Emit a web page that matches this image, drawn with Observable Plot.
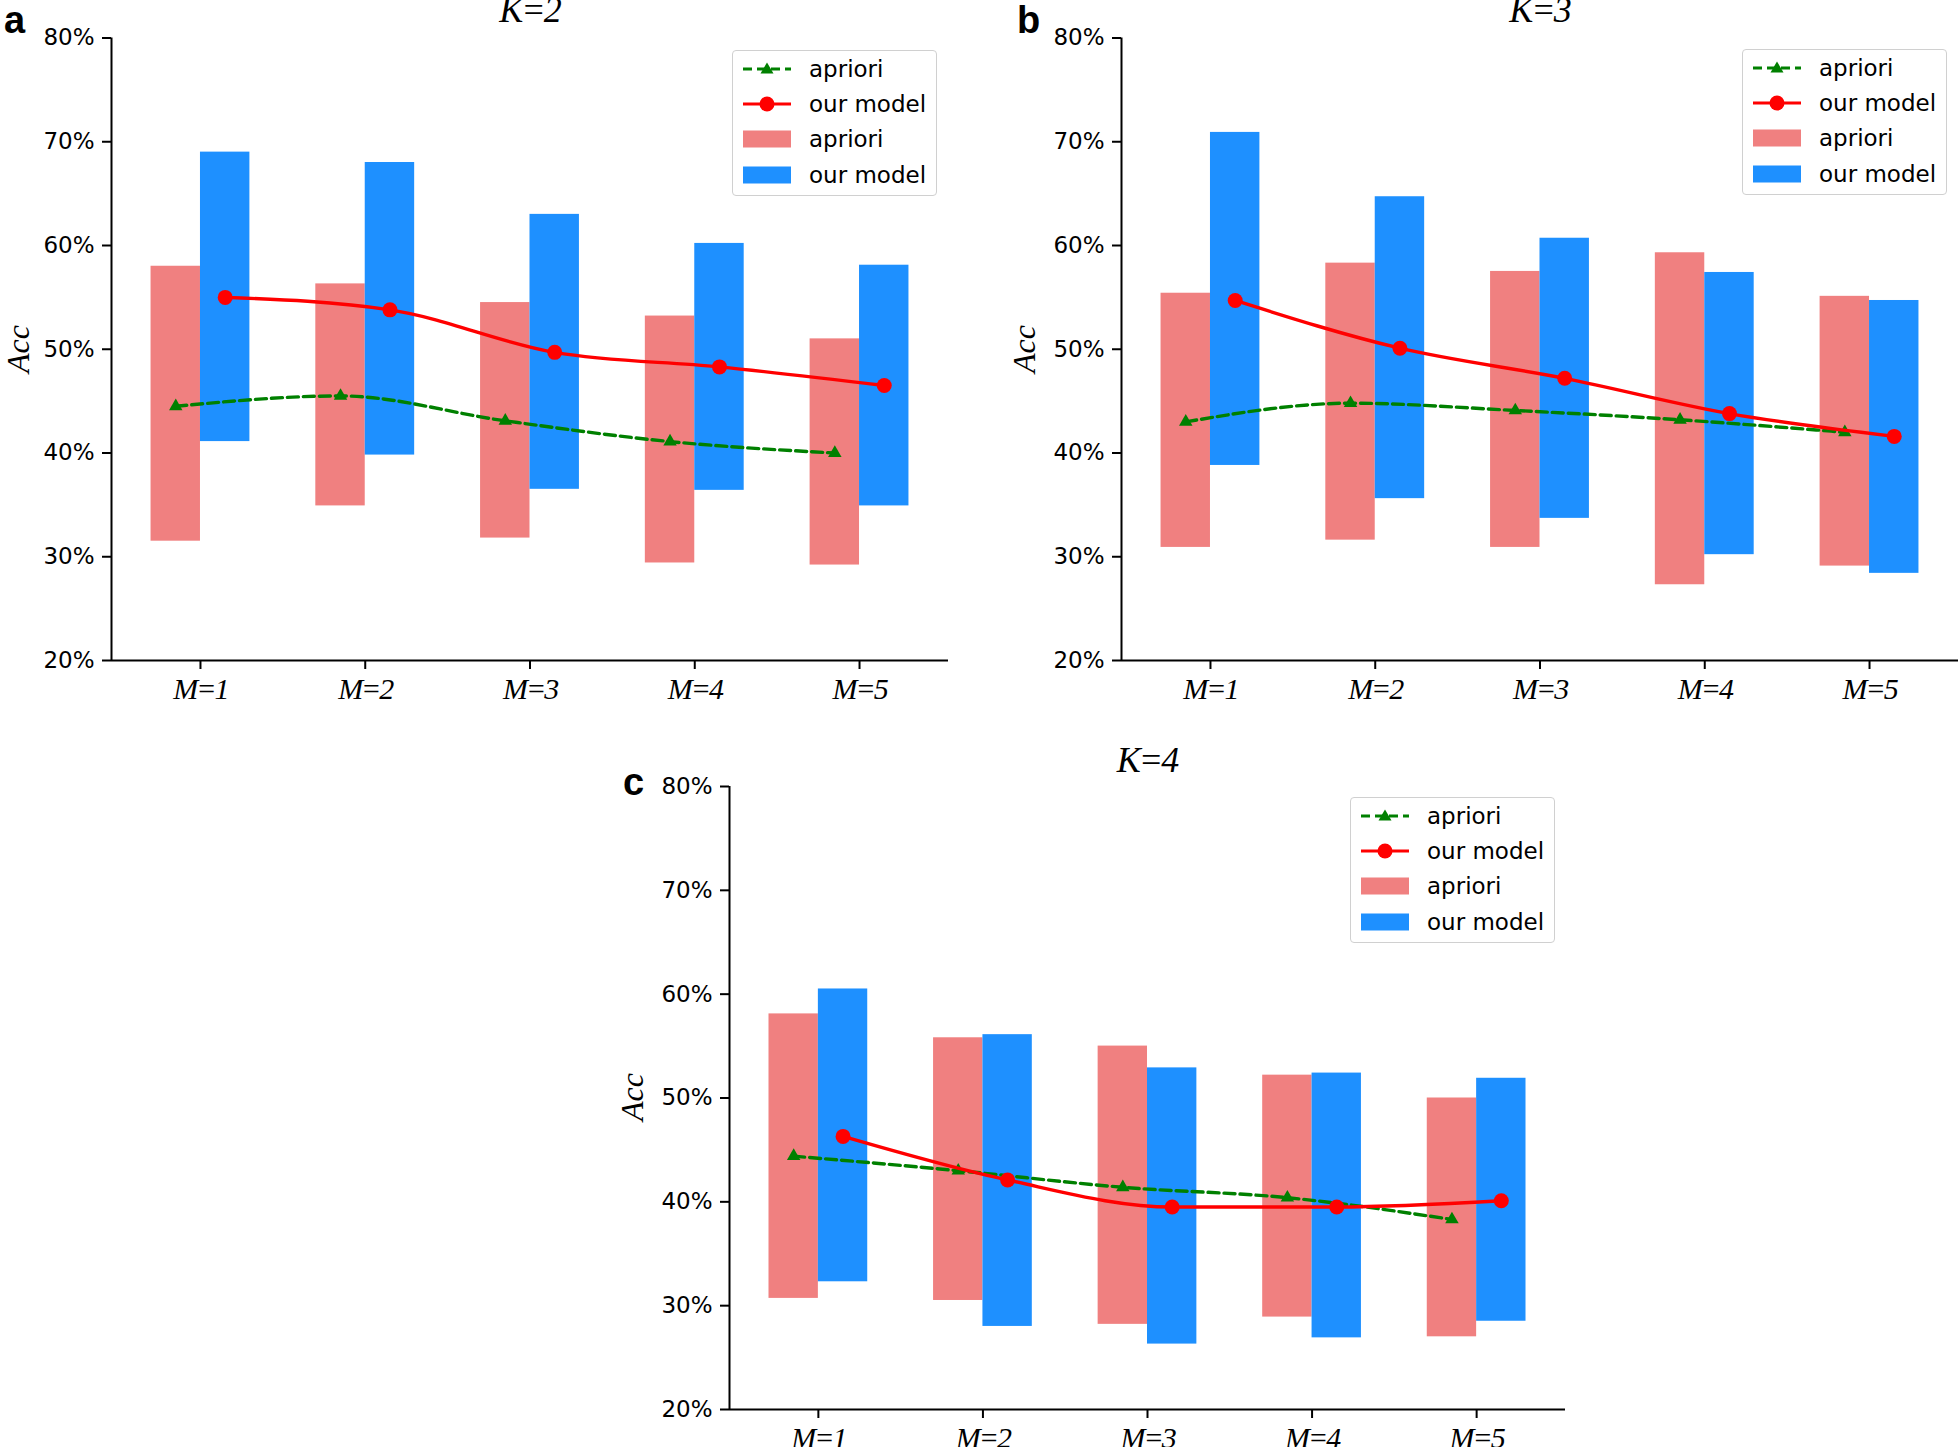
<!DOCTYPE html>
<html>
<head>
<meta charset="utf-8">
<script src="https://cdn.jsdelivr.net/npm/d3@7"></script>
<script src="https://cdn.jsdelivr.net/npm/@observablehq/plot@0.6"></script>
<style>
  body { margin: 0; background: #fff; }
  #page { position: relative; width: 1960px; height: 1447px; overflow: hidden; background: #fff; }
  .panel { position: absolute; }
  .title { position: absolute; font-family: "Liberation Serif", serif; font-style: italic; font-size: 36px; letter-spacing: -2px; line-height: 1; transform: translateX(-50%); white-space: nowrap; color: #000; }
  .letter { position: absolute; font-family: "Liberation Sans", Arial, sans-serif; font-weight: bold; font-size: 38px; line-height: 1; color: #000; }
  .ylab { position: absolute; font-family: "Liberation Serif", serif; font-style: italic; font-size: 32px; line-height: 1; transform: translate(-50%, -50%) rotate(-90deg); white-space: nowrap; color: #000; }
  .legend { position: absolute; box-sizing: border-box; width: 205px; height: 146px; padding: 0 0 0 10px; background: rgba(255,255,255,0.8); border: 1px solid #d0d0d0; border-radius: 4px; }
  .legend .row { display: flex; align-items: center; height: 35.3px; }
  .legend svg { width: 48px; height: 20px; margin-right: 18px; flex: none; }
  .legend span { font-family: "DejaVu Sans", sans-serif; font-size: 23px; color: #000; white-space: nowrap; }
  g[aria-label="x-axis tick label"] text { letter-spacing: -2px; }
</style>
</head>
<body>
<div id="page"></div>
<script>
// ---------- data ----------
const categories = ["M=1", "M=2", "M=3", "M=4", "M=5"];
const yTicks = [20, 30, 40, 50, 60, 70, 80];
const panelTitles = ["K=2", "K=3", "K=4"];
const panelLetters = ["a", "b", "c"];
const seriesNames = ["apriori", "our model"];

// K=2
const k2AprioriLow  = [31.5, 34.9, 31.8, 29.4, 29.2];
const k2AprioriHigh = [58.0, 56.3, 54.5, 53.2, 51.0];
const k2ModelLow    = [41.1, 39.8, 36.5, 36.4, 34.9];
const k2ModelHigh   = [69.0, 68.0, 63.0, 60.2, 58.1];
const k2AprioriAcc  = [44.5, 45.5, 43.1, 41.1, 40.0];
const k2ModelAcc    = [55.0, 53.8, 49.7, 48.3, 46.5];
// K=3
const k3AprioriLow  = [30.9, 31.6, 30.9, 27.3, 29.1];
const k3AprioriHigh = [55.4, 58.3, 57.5, 59.3, 55.1];
const k3ModelLow    = [38.8, 35.6, 33.7, 30.2, 28.4];
const k3ModelHigh   = [70.9, 64.7, 60.7, 57.4, 54.7];
const k3AprioriAcc  = [43.0, 44.8, 44.1, 43.2, 42.0];
const k3ModelAcc    = [54.7, 50.1, 47.2, 43.8, 41.6];
// K=4
const k4AprioriLow  = [30.7, 30.5, 28.2, 28.9, 27.0];
const k4AprioriHigh = [58.1, 55.8, 55.0, 52.2, 50.0];
const k4ModelLow    = [32.3, 28.0, 26.3, 26.9, 28.5];
const k4ModelHigh   = [60.5, 56.1, 52.9, 52.4, 51.9];
const k4AprioriAcc  = [44.4, 43.0, 41.4, 40.4, 38.3];
const k4ModelAcc    = [46.3, 42.1, 39.5, 39.5, 40.1];

// ---------- styles / layout ----------
const colAprioriBar = "#F08080";
const colModelBar = "#1E90FF";
const colAprioriLine = "#008000";
const colModelLine = "#FF0000";

const panels = [
  { data: [k2AprioriLow, k2AprioriHigh, k2ModelLow, k2ModelHigh, k2AprioriAcc, k2ModelAcc],
    left: 0, top: 0, w: 980, h: 720, ml: 111, mr: 32, mt: 37.5, mb: 60,
    title: [529.5, -8], letter: [4, 0.5], ylab: [18, 349], legend: [732, 50] },
  { data: [k3AprioriLow, k3AprioriHigh, k3ModelLow, k3ModelHigh, k3AprioriAcc, k3ModelAcc],
    left: 1010, top: 0, w: 950, h: 720, ml: 111, mr: 2, mt: 37.5, mb: 60,
    title: [1539.5, -8], letter: [1017, 0.5], ylab: [1024, 349], legend: [1742, 49] },
  { data: [k4AprioriLow, k4AprioriHigh, k4ModelLow, k4ModelHigh, k4AprioriAcc, k4ModelAcc],
    left: 618, top: 749, w: 967, h: 698, ml: 111, mr: 20, mt: 37, mb: 38,
    title: [1147, 742], letter: [623, 763], ylab: [632, 1097], legend: [1350, 797] }
];

const page = document.getElementById("page");
const xDomain = [-0.54, 4.54];

function legendHTML() {
  return `
  <div class="row"><svg viewBox="0 0 48 20"><line x1="0" y1="10" x2="48" y2="10" stroke="${colAprioriLine}" stroke-width="3.2" stroke-dasharray="9,5"/><path d="M24,3.5 L30.5,14.5 L17.5,14.5 Z" fill="${colAprioriLine}"/></svg><span>${seriesNames[0]}</span></div>
  <div class="row"><svg viewBox="0 0 48 20"><line x1="0" y1="10" x2="48" y2="10" stroke="${colModelLine}" stroke-width="3.2"/><circle cx="24" cy="10" r="7.5" fill="${colModelLine}"/></svg><span>${seriesNames[1]}</span></div>
  <div class="row"><svg viewBox="0 0 48 20"><rect x="0" y="1.5" width="48" height="17" fill="${colAprioriBar}"/></svg><span>${seriesNames[0]}</span></div>
  <div class="row"><svg viewBox="0 0 48 20"><rect x="0" y="1.5" width="48" height="17" fill="${colModelBar}"/></svg><span>${seriesNames[1]}</span></div>`;
}

panels.forEach((p, k) => {
  const [aLo, aHi, mLo, mHi, aAcc, mAcc] = p.data;
  const rows = categories.map((c, i) => ({ i, c, aLo: aLo[i], aHi: aHi[i], mLo: mLo[i], mHi: mHi[i], aAcc: aAcc[i], mAcc: mAcc[i] }));

  const chart = Plot.plot({
    width: p.w, height: p.h,
    marginLeft: p.ml, marginRight: p.mr, marginTop: p.mt, marginBottom: p.mb,
    style: { background: "transparent", overflow: "visible", color: "#000" },
    x: { domain: xDomain },
    y: { domain: [20, 80] },
    marks: [
      Plot.rect(rows, { x1: d => d.i - 0.3, x2: d => d.i, y1: "aLo", y2: "aHi", fill: colAprioriBar }),
      Plot.rect(rows, { x1: d => d.i, x2: d => d.i + 0.3, y1: "mLo", y2: "mHi", fill: colModelBar }),
      Plot.line(rows, { x: d => d.i - 0.15, y: "aAcc", stroke: colAprioriLine, strokeWidth: 3.4, strokeDasharray: "11,5", curve: "monotone-x" }),
      Plot.dot(rows, { x: d => d.i - 0.15, y: "aAcc", symbol: "triangle", r: 5, fill: colAprioriLine, stroke: null }),
      Plot.line(rows, { x: d => d.i + 0.15, y: "mAcc", stroke: colModelLine, strokeWidth: 3.4, curve: "monotone-x" }),
      Plot.dot(rows, { x: d => d.i + 0.15, y: "mAcc", r: 7.5, fill: colModelLine, stroke: null }),
      Plot.axisY({ ticks: yTicks, tickFormat: v => v + "%", tickSize: 9, tickPadding: 8, fontSize: 23, fontFamily: "DejaVu Sans", label: null, strokeWidth: 2 }),
      Plot.axisX({ ticks: [0, 1, 2, 3, 4], tickFormat: i => categories[i], tickSize: 9, tickPadding: 8, fontSize: 30, fontFamily: "Liberation Serif", fontStyle: "italic", label: null, strokeWidth: 2 }),
      Plot.ruleX([xDomain[0]], { stroke: "#000", strokeWidth: 2 }),
      Plot.ruleY([20], { stroke: "#000", strokeWidth: 2 })
    ]
  });

  const holder = document.createElement("div");
  holder.className = "panel";
  holder.style.left = p.left + "px";
  holder.style.top = p.top + "px";
  holder.appendChild(chart);
  page.appendChild(holder);

  const t = document.createElement("div");
  t.className = "title";
  t.textContent = panelTitles[k];
  t.style.left = p.title[0] + "px";
  t.style.top = p.title[1] + "px";
  page.appendChild(t);

  const l = document.createElement("div");
  l.className = "letter";
  l.textContent = panelLetters[k];
  l.style.left = p.letter[0] + "px";
  l.style.top = p.letter[1] + "px";
  page.appendChild(l);

  const y = document.createElement("div");
  y.className = "ylab";
  y.textContent = "Acc";
  y.style.left = p.ylab[0] + "px";
  y.style.top = p.ylab[1] + "px";
  page.appendChild(y);

  const lg = document.createElement("div");
  lg.className = "legend";
  lg.style.left = p.legend[0] + "px";
  lg.style.top = p.legend[1] + "px";
  lg.innerHTML = legendHTML();
  page.appendChild(lg);
});
</script>
</body>
</html>
